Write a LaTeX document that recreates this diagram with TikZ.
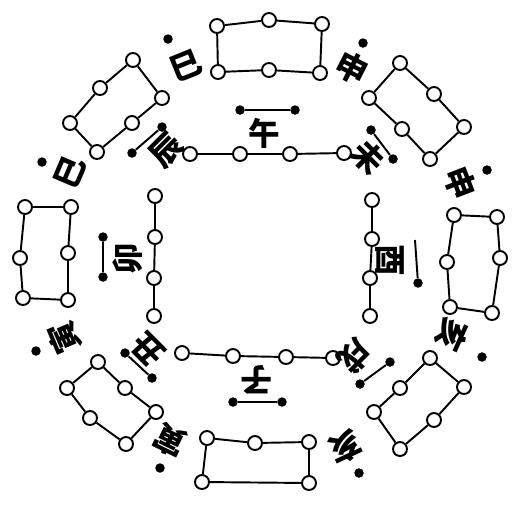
\documentclass[tikz,border=0pt]{standalone}
\usepackage{fontspec}
\newfontfamily\cjk{Noto Sans CJK TC}
\usepackage{tikz}

\begin{document}
\begin{tikzpicture}[
    x=0.02cm, y=-0.02cm,
    ring/.style={circle, draw, line width=1.1pt, fill=white, minimum size=0.28cm, inner sep=0pt},
    dot/.style={circle, fill=black, minimum size=0.19cm, inner sep=0pt},
    branch/.style={font=\cjk\bfseries\fontsize{18}{18}\selectfont, inner sep=0pt},
    link/.style={line width=1.1pt},
]
\useasboundingbox (0,0) rectangle (517,505);

% Inner square
\node[ring] (t1) at (190,154) {}; \node[ring] (t2) at (240,154) {}; \node[ring] (t3) at (290,154) {}; \node[ring] (t4) at (344,153) {};
\node[ring] (l1) at (155,196) {}; \node[ring] (l2) at (155,237) {}; \node[ring] (l3) at (154,278) {}; \node[ring] (l4) at (154,316) {};
\node[ring] (b1) at (182,353) {}; \node[ring] (b2) at (233,356) {}; \node[ring] (b3) at (286,357) {}; \node[ring] (b4) at (333,358) {};
\node[ring] (r1) at (372,200) {}; \node[ring] (r2) at (372,239) {}; \node[ring] (r3) at (370,278) {}; \node[ring] (r4) at (370,316) {};
\draw[link] (t1) -- (t2) -- (t3) -- (t4);
\draw[link] (l1) -- (l2) -- (l3) -- (l4);
\draw[link] (b1) -- (b2) -- (b3) -- (b4);
\draw[link] (r1) -- (r2) -- (r3) -- (r4);

% Outer boxes
\node[ring] (n1) at (217,26) {}; \node[ring] (n2) at (269,20) {}; \node[ring] (n3) at (322,24) {};
\node[ring] (n4) at (320,73) {}; \node[ring] (n5) at (269,70) {}; \node[ring] (n6) at (218,72) {};
\node[ring] (ne1) at (400,63) {}; \node[ring] (ne2) at (434,94) {}; \node[ring] (ne3) at (464,127) {};
\node[ring] (ne4) at (430,159) {}; \node[ring] (ne5) at (402,129) {}; \node[ring] (ne6) at (369,98) {};
\node[ring] (e1) at (454,215) {}; \node[ring] (e2) at (497,217) {}; \node[ring] (e3) at (500,258) {};
\node[ring] (e4) at (492,313) {}; \node[ring] (e5) at (450,307) {}; \node[ring] (e6) at (447,262) {};
\node[ring] (se1) at (430,358) {}; \node[ring] (se2) at (464,387) {}; \node[ring] (se3) at (434,420) {};
\node[ring] (se4) at (400,449) {}; \node[ring] (se5) at (374,412) {}; \node[ring] (se6) at (400,388) {};
\node[ring] (s1) at (207,438) {}; \node[ring] (s2) at (255,443) {}; \node[ring] (s3) at (309,442) {};
\node[ring] (s4) at (309,483) {}; \node[ring] (s6) at (202,482) {};
\node[ring] (sw1) at (98,362) {}; \node[ring] (sw2) at (125,388) {}; \node[ring] (sw3) at (156,412) {};
\node[ring] (sw4) at (126,444) {}; \node[ring] (sw5) at (90,418) {}; \node[ring] (sw6) at (67,388) {};
\node[ring] (w1) at (25,207) {}; \node[ring] (w2) at (71,207) {}; \node[ring] (w3) at (68,253) {};
\node[ring] (w4) at (68,300) {}; \node[ring] (w5) at (23,298) {}; \node[ring] (w6) at (20,258) {};
\node[ring] (nw1) at (133,60) {}; \node[ring] (nw2) at (162,98) {}; \node[ring] (nw3) at (132,123) {};
\node[ring] (nw4) at (97,152) {}; \node[ring] (nw5) at (70,123) {}; \node[ring] (nw6) at (100,88) {};
\draw[link] (n1) -- (n2) -- (n3) -- (n4) -- (n5) -- (n6) -- (n1);
\draw[link] (ne1) -- (ne2) -- (ne3) -- (ne4) -- (ne5) -- (ne6) -- (ne1);
\draw[link] (e1) -- (e2) -- (e3) -- (e4) -- (e5) -- (e6) -- (e1);
\draw[link] (se1) -- (se2) -- (se3) -- (se4) -- (se5) -- (se6) -- (se1);
\draw[link] (s1) -- (s2) -- (s3) -- (s4) -- (s6) -- (s1);
\draw[link] (sw1) -- (sw2) -- (sw3) -- (sw4) -- (sw5) -- (sw6) -- (sw1);
\draw[link] (w1) -- (w2) -- (w3) -- (w4) -- (w5) -- (w6) -- (w1);
\draw[link] (nw1) -- (nw2) -- (nw3) -- (nw4) -- (nw5) -- (nw6) -- (nw1);

% Inner branches
\node[branch] (wu) at (264,133) {午};
\node[branch, rotate=180] (zi) at (257,380) {子};
\node[branch, rotate=90] (mao) at (128,259) {卯};
\node[branch, rotate=-90] (you) at (390,260) {酉};
\node[branch, rotate=45] (chen) at (167,150) {辰};
\node[branch, rotate=-45] (wei) at (368,157) {未};
\node[branch, rotate=135] (chou) at (148,350) {丑};
\node[branch, rotate=-135] (xu) at (355,356) {戌};

% Bars beside the inner branches
\node[dot] (wuA) at (240,110) {}; \node[dot] (wuB) at (295,110) {};
\node[dot] (ziA) at (233,402) {}; \node[dot] (ziB) at (282,402) {};
\node[dot] (maoA) at (103,237) {}; \node[dot] (maoB) at (103,277) {};
\coordinate (youA) at (415,240); \node[dot] (youB) at (418,283) {};
\node[dot] (chenA) at (132,153) {}; \node[dot] (chenB) at (162,127) {};
\node[dot] (weiA) at (371,130) {}; \node[dot] (weiB) at (393,159) {};
\node[dot] (chouA) at (125,353) {}; \node[dot] (chouB) at (152,378) {};
\node[dot] (xuA) at (390,362) {}; \node[dot] (xuB) at (360,384) {};
\draw[link] (wuA) -- (wuB);
\draw[link] (ziA) -- (ziB);
\draw[link] (maoA) -- (maoB);
\draw[link] (youA) -- (youB);
\draw[link] (chenA) -- (chenB);
\draw[link] (weiA) -- (weiB);
\draw[link] (chouA) -- (chouB);
\draw[link] (xuA) -- (xuB);

% Outer branches
\node[branch, rotate=22] (si1) at (186,66) {巳};
\node[branch, rotate=67] (si2) at (70,172) {巳};
\node[branch, rotate=-27] (shen1) at (352,68) {申};
\node[branch, rotate=-69] (shen2) at (460,183) {申};
\node[branch, rotate=-114] (hai1) at (452,335) {亥};
\node[branch, rotate=-155] (hai2) at (345,447) {亥};
\node[branch, rotate=113] (yin1) at (64,338) {寅};
\node[branch, rotate=154] (yin2) at (170,440) {寅};
\node[dot] (si1d) at (168,39) {};
\node[dot] (si2d) at (42,162) {};
\node[dot] (shen1d) at (363,43) {};
\node[dot] (shen2d) at (487,170) {};
\node[dot] (hai1d) at (482,357) {};
\node[dot] (hai2d) at (359,473) {};
\node[dot] (yin1d) at (36,351) {};
\node[dot] (yin2d) at (160,468) {};

\end{tikzpicture}
\end{document}
